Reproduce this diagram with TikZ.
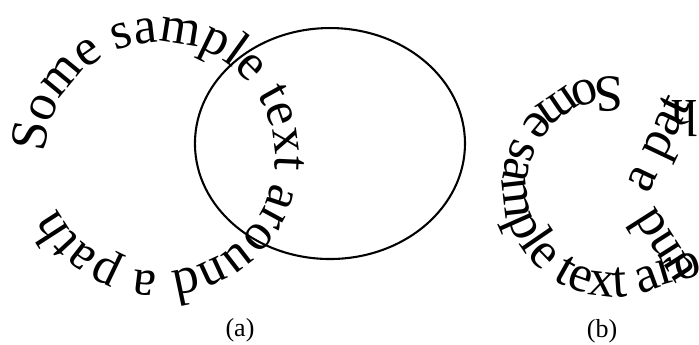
\documentclass[tikz,border=0pt]{standalone}
\usepackage{fontspec}
\setmainfont{Liberation Serif}
\usetikzlibrary{decorations.text}

\newcommand{\pathfont}{\fontsize{20}{24}\selectfont}
\tikzset{
    alongpath/.style={decorate, decoration={text along path,
        text align=left, text={|\pathfont|#1}}}
}

\begin{document}
\begin{tikzpicture}
    \useasboundingbox (0,0) rectangle (9.448,4.663);

    \coordinate (ca) at (2.163,2.541);
    \coordinate (ce) at (4.460,2.723);
    \coordinate (cb) at (8.285,2.136);
    \coordinate (ka) at (9.448,0.946);
    \coordinate (km) at (8.758,2.027);
    \coordinate (kb) at (9.367,3.311);

    % (a): text running clockwise, circle beside it
    \path [alongpath={Some sample text around a path}]
        (ca) ++(178:1.554) arc (178:-182:1.554);
    \draw [line width=0.8pt] (ce) ellipse (1.825 and 1.561);

    % (b): text running the other way, inside the path
    \path [alongpath={Some sample text around a path}]
        (cb) ++(85:1.487) arc (85:295:1.487) -- (ka) -- (km) -- (kb)
        -- +(-1.5,0);

    \node (capa) at (3.244,0.203) {(a)};
    \node (capb) at (8.137,0.189) {(b)};
\end{tikzpicture}
\end{document}
